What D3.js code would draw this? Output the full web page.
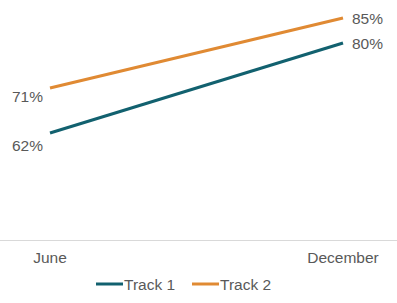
<!DOCTYPE html>
<html lang="en">
<head>
    <meta charset="UTF-8">
    <title>Track 1 vs Track 2</title>
    <script src="https://d3js.org/d3.v7.min.js"></script>
    <style>
        html, body {
            margin: 0;
            padding: 0;
            background-color: #fff;
            font-family: 'Liberation Sans', Arial, sans-serif;
        }
        svg text { fill: #595959; font-size: 15.5px; }
    </style>
</head>
<body>
    <div id="chart"></div>
    <script>
        const months = ["June", "December"];
        const track1 = [62, 80];
        const track2 = [71, 85];
        const seriesNames = ["Track 1", "Track 2"];
        const colors = ["#12616F", "#E08A33"];

        const width = 397, height = 303;
        const baseY = 240;

        const svg = d3.select("#chart")
            .append("svg")
            .attr("width", width)
            .attr("height", height);

        const x = d3.scalePoint().domain(months).range([50, 343]);
        const y = d3.scaleLinear().domain([40, 88]).range([243, 3]);

        // x axis baseline
        svg.append("line")
            .attr("x1", 0).attr("x2", width)
            .attr("y1", baseY + 0.5).attr("y2", baseY + 0.5)
            .attr("stroke", "#d9d9d9").attr("stroke-width", 1);

        // month labels
        svg.selectAll(".month")
            .data(months).enter()
            .append("text")
            .attr("class", "month")
            .attr("x", d => x(d))
            .attr("y", 263)
            .attr("text-anchor", "middle")
            .text(d => d);

        const series = [track1, track2];
        const startLabelDy = [18, 14];
        const line = d3.line()
            .x((d, i) => x(months[i]))
            .y(d => y(d));

        series.forEach((s, k) => {
            svg.append("path")
                .datum(s)
                .attr("d", line)
                .attr("fill", "none")
                .attr("stroke", colors[k])
                .attr("stroke-width", 3);

            // start label, left and slightly below
            svg.append("text")
                .attr("x", x(months[0]) - 7)
                .attr("y", y(s[0]) + startLabelDy[k])
                .attr("text-anchor", "end")
                .text(s[0] + "%");

            // end label, right
            svg.append("text")
                .attr("x", x(months[1]) + 9)
                .attr("y", y(s[1]) + 6)
                .text(s[1] + "%");
        });

        // legend
        const legend = svg.append("g").attr("transform", "translate(96, 284)");
        const legendX = [0, 96];
        seriesNames.forEach((name, k) => {
            legend.append("line")
                .attr("x1", legendX[k]).attr("x2", legendX[k] + 27)
                .attr("y1", 0).attr("y2", 0)
                .attr("stroke", colors[k]).attr("stroke-width", 3);
            legend.append("text")
                .attr("x", legendX[k] + 28)
                .attr("y", 6)
                .text(name);
        });
    </script>
</body>
</html>
